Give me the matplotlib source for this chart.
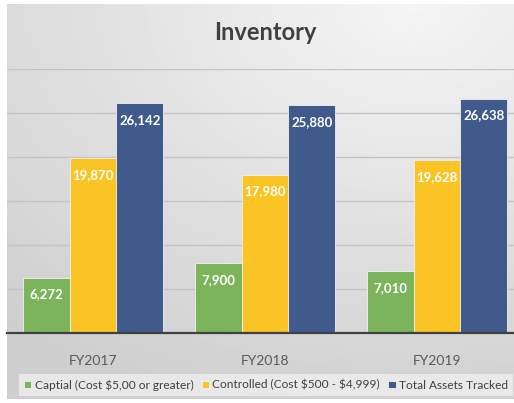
import numpy as np
import matplotlib
matplotlib.use('Agg')
import matplotlib.pyplot as plt

plt.rcParams['font.family'] = ['Lato', 'DejaVu Sans']

# data
years = ['FY2017', 'FY2018', 'FY2019']
series_names = [r'Captial (Cost \$5,00 or greater)',
                r'Controlled (Cost \$500 - \$4,999)',
                'Total Assets Tracked']
capital = [6272, 7900, 7010]
controlled = [19870, 17980, 19628]
total = [26142, 25880, 26638]
colors = ['#7cb45c', '#fbc425', '#3f5a8b']

W, H = 514, 403
fig = plt.figure(figsize=(W / 100, H / 100), dpi=100)

# grey gradient background panel
bg = fig.add_axes([7 / W, 1 - 399 / H, 507 / W, 395 / H], zorder=-2)
yy, xx = np.mgrid[0:1:200j, 0:1:200j]
dist = np.sqrt(((xx - 0.8) * 1.0) ** 2 + ((yy - 0.0) * 1.1) ** 2)
shade = 0.96 - 0.15 * np.clip(dist / 1.2, 0, 1)
bg.imshow(shade, cmap='gray', vmin=0, vmax=1, aspect='auto',
          interpolation='bilinear', extent=[0, 1, 1, 0])
bg.axis('off')

# main plot area (runs off the right edge like the original)
ax = fig.add_axes([7 / W, 1 - 333 / H, 516 / W, 264 / H])
ax.set_facecolor('none')
x = np.arange(len(years))
w = 0.273
for i, (vals, col) in enumerate(zip([capital, controlled, total], colors)):
    bars = ax.bar(x + (i - 1) * w, vals, w, color=col, edgecolor='#f2f2f2',
                  linewidth=0.6, label=series_names[i], zorder=3)
    for b, v in zip(bars, vals):
        ax.annotate(f'{v:,}', (b.get_x() + b.get_width() / 2, v),
                    xytext=(0, -12), textcoords='offset points',
                    ha='center', va='center', color='white',
                    fontsize=9.5, fontweight='bold', zorder=4)

ax.set_xlim(-0.5, 2.5)
ax.set_ylim(0, 30000)
ax.set_yticks(np.arange(0, 30001, 5000))
ax.yaxis.grid(True, color='#c4c4c4', linewidth=1)
ax.set_axisbelow(True)
ax.tick_params(left=False, labelleft=False, bottom=False)
ax.set_xticks(x)
ax.set_xticklabels(years, fontsize=10, color='#595959')
ax.tick_params(axis='x', pad=12)
for s in ['top', 'right', 'left']:
    ax.spines[s].set_visible(False)
ax.spines['bottom'].set_color('#404040')
ax.spines['bottom'].set_linewidth(1.6)
ax.spines['bottom'].set_zorder(5)

fig.text(265 / W, 1 - 33 / H, 'Inventory', ha='center', va='center',
         fontsize=17, fontweight='bold', color='#404040')

leg = fig.legend(loc='center', bbox_to_anchor=(266 / W, 1 - 385 / H), ncol=3,
                 frameon=True, fontsize=8.6, handlelength=0.6, handleheight=0.6,
                 handletextpad=0.3, columnspacing=0.7, borderpad=0.4,
                 fancybox=False)
leg.get_frame().set_facecolor('#efefef')
leg.get_frame().set_edgecolor('none')
for t in leg.get_texts():
    t.set_color('#404040')

fig.savefig('out.png', dpi=100)
